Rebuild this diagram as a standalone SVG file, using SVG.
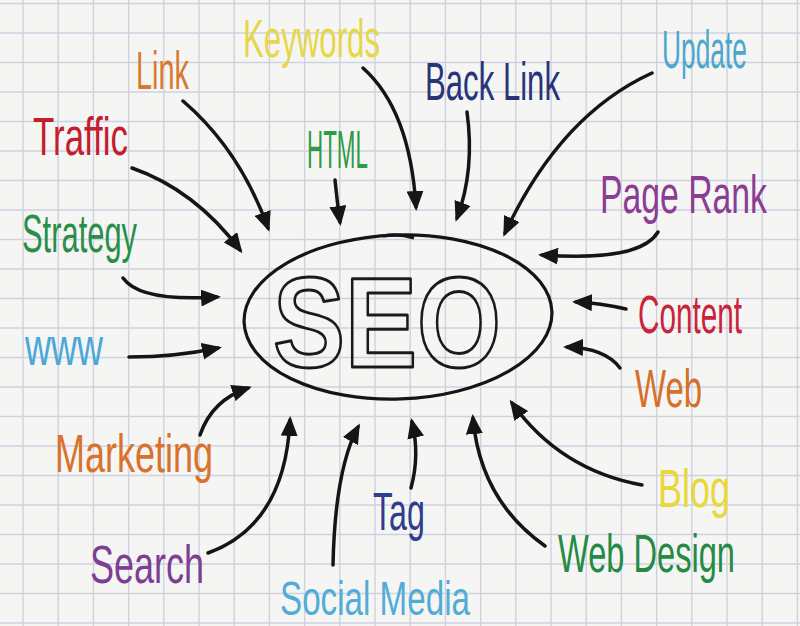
<svg xmlns="http://www.w3.org/2000/svg" width="800" height="626" viewBox="0 0 800 626">
  <defs>
    <marker id="ah" markerUnits="userSpaceOnUse" markerWidth="21" markerHeight="17" refX="16" refY="8.5" orient="auto" viewBox="0 0 21 17">
      <path d="M0,0 L20,8.5 L0,17 z" fill="#151515"/>
    </marker>
    <style>
      .grid { stroke: #d0d1df; stroke-width: 1.4; fill: none; }
      .arrow { fill: none; stroke: #151515; stroke-width: 3.5; stroke-linecap: round; marker-end: url(#ah); }
      .lbl { font-family: "Liberation Sans", "DejaVu Sans", sans-serif; font-size: 40px; }
      .seo { font-family: "Liberation Sans", "DejaVu Sans", sans-serif; font-weight: bold; font-size: 128px; fill: none; stroke: #1a1a1a; stroke-width: 3; stroke-linejoin: round; }
    </style>
  </defs>
  <rect x="0" y="0" width="800" height="626" fill="#f5f6f4"/>
  <path class="grid" d="M23,0V626 M58.2,0V626 M93.4,0V626 M128.6,0V626 M163.8,0V626 M199,0V626 M234.2,0V626 M269.4,0V626 M304.6,0V626 M339.8,0V626 M375,0V626 M410.2,0V626 M445.4,0V626 M480.6,0V626 M515.8,0V626 M551,0V626 M586.2,0V626 M621.4,0V626 M656.6,0V626 M691.8,0V626 M727,0V626 M762.2,0V626 M797.4,0V626 M0,3.5H800 M0,33H800 M0,62.5H800 M0,92H800 M0,121.5H800 M0,151H800 M0,180.5H800 M0,210H800 M0,239.5H800 M0,269H800 M0,298.5H800 M0,328H800 M0,357.5H800 M0,387H800 M0,416.5H800 M0,446H800 M0,475.5H800 M0,505H800 M0,534.5H800 M0,564H800 M0,593.5H800 M0,623H800"/>

  <g id="connectors">
    <path class="arrow" d="M183,101 Q240,150 268,228"/>
    <path class="arrow" d="M132,168 Q195,190 240,250"/>
    <path class="arrow" d="M123,278 Q140,302 217,297"/>
    <path class="arrow" d="M129,357 Q175,357 218,348"/>
    <path class="arrow" d="M200,435 Q212,400 248,388"/>
    <path class="arrow" d="M208,553 Q285,525 290,420"/>
    <path class="arrow" d="M333,565 Q335,470 358,427"/>
    <path class="arrow" d="M411,488 Q420,455 412,422"/>
    <path class="arrow" d="M545,546 Q480,500 473,418"/>
    <path class="arrow" d="M642,485 Q560,470 512,403"/>
    <path class="arrow" d="M620,368 Q605,348 567,347"/>
    <path class="arrow" d="M626,309 Q600,303 576,302"/>
    <path class="arrow" d="M658,232 Q640,262 542,255"/>
    <path class="arrow" d="M652,73 Q560,115 505,233"/>
    <path class="arrow" d="M467,112 Q475,170 457,218"/>
    <path class="arrow" d="M363,68 Q410,110 416,207"/>
    <path class="arrow" d="M335,180 Q337,200 340,222"/>
  </g>

  <g id="seo">
    <ellipse cx="398" cy="317" rx="154" ry="82" transform="rotate(-2 398 317)" fill="none" stroke="#151515" stroke-width="3.2"/>
    <path d="M383,236 Q398,233 414,238" fill="none" stroke="#151515" stroke-width="3"/>
    <text class="seo" x="273" y="367" textLength="228" lengthAdjust="spacingAndGlyphs">SEO</text>
  </g>

  <g id="keywords"><text class="lbl" transform="translate(243,57) scale(1,1.35)" fill="#e5d64a" textLength="137" lengthAdjust="spacingAndGlyphs">Keywords</text></g>
  <g id="link"><text class="lbl" transform="translate(136,89) scale(1,1.35)" fill="#d87a2e" textLength="53" lengthAdjust="spacingAndGlyphs">Link</text></g>
  <g id="traffic"><text class="lbl" transform="translate(33,155) scale(1,1.35)" fill="#c41e2e" textLength="95" lengthAdjust="spacingAndGlyphs">Traffic</text></g>
  <g id="html"><text class="lbl" transform="translate(307,168) scale(1,1.35)" fill="#2e9a48" textLength="61" lengthAdjust="spacingAndGlyphs">HTML</text></g>
  <g id="backlink"><text class="lbl" transform="translate(425,100) scale(1,1.35)" fill="#283478" textLength="135" lengthAdjust="spacingAndGlyphs">Back Link</text></g>
  <g id="update"><text class="lbl" transform="translate(662,68) scale(1,1.35)" fill="#4fa6cc" textLength="85" lengthAdjust="spacingAndGlyphs">Update</text></g>
  <g id="pagerank"><text class="lbl" transform="translate(600,213) scale(1,1.35)" fill="#8b3d94" textLength="167" lengthAdjust="spacingAndGlyphs">Page Rank</text></g>
  <g id="strategy"><text class="lbl" transform="translate(22,252) scale(1,1.35)" fill="#2a8e4a" textLength="115" lengthAdjust="spacingAndGlyphs">Strategy</text></g>
  <g id="www"><text class="lbl" transform="translate(25,365) scale(1,1.35)" fill="#4aa8d8" textLength="78" lengthAdjust="spacingAndGlyphs">www</text></g>
  <g id="content"><text class="lbl" transform="translate(638,333) scale(1,1.35)" fill="#c8243a" textLength="104" lengthAdjust="spacingAndGlyphs">Content</text></g>
  <g id="web"><text class="lbl" transform="translate(635,407) scale(1,1.35)" fill="#d4702a" textLength="67" lengthAdjust="spacingAndGlyphs">Web</text></g>
  <g id="blog"><text class="lbl" transform="translate(658,507) scale(1,1.35)" fill="#e8d838" textLength="72" lengthAdjust="spacingAndGlyphs">Blog</text></g>
  <g id="webdesign"><text class="lbl" transform="translate(558,572) scale(1,1.35)" fill="#258a44" textLength="177" lengthAdjust="spacingAndGlyphs">Web Design</text></g>
  <g id="tag"><text class="lbl" transform="translate(373,530) scale(1,1.35)" fill="#303c8c" textLength="52" lengthAdjust="spacingAndGlyphs">Tag</text></g>
  <g id="socialmedia"><text class="lbl" transform="translate(280,615) scale(1,1.22)" fill="#52acd6" textLength="190" lengthAdjust="spacingAndGlyphs">Social Media</text></g>
  <g id="search"><text class="lbl" transform="translate(90,583) scale(1,1.35)" fill="#7e3e92" textLength="114" lengthAdjust="spacingAndGlyphs">Search</text></g>
  <g id="marketing"><text class="lbl" transform="translate(55,472) scale(1,1.35)" fill="#d9722c" textLength="158" lengthAdjust="spacingAndGlyphs">Marketing</text></g>
</svg>
